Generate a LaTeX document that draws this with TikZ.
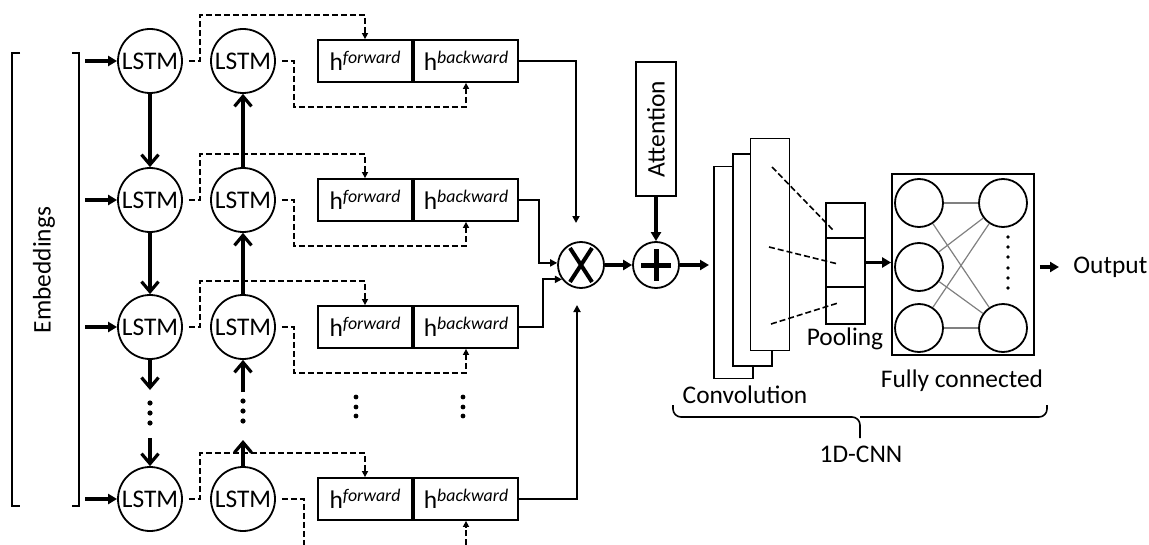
\documentclass[tikz,border=0pt]{standalone}
\usepackage{fontspec}
\setmainfont{Carlito}
\usetikzlibrary{arrows.meta}

\newcommand{\hsup}[1]{h\raisebox{3.5pt}{\fontsize{8.9}{10}\selectfont\itshape #1}}

\begin{document}
\begin{tikzpicture}[x=0.5pt, y=-0.5pt, font=\fontsize{12.7}{15}\selectfont,
	lstm/.style={draw, circle, line width=0.9pt, minimum size=32pt, inner sep=0pt},
	hbox/.style={draw, line width=0.9pt, minimum height=21pt, inner sep=0pt},
	convbox/.style={draw, fill=white, line width=0.9pt, minimum width=19.5pt, minimum height=106pt, inner sep=0pt},
	poolcell/.style={draw, line width=0.9pt, minimum width=19.5pt, inner sep=0pt},
	neuron/.style={draw, circle, line width=0.9pt, minimum size=24pt, inner sep=0pt},
	opcircle/.style={draw, circle, line width=0.9pt, minimum size=23pt, inner sep=0pt},
	inarrow/.style={-{Triangle[length=4.5pt,width=5pt]}, line width=1.6pt},
	vertarrow/.style={-{Straight Barb[length=5pt,width=8.5pt]}, line width=1.6pt},
	bigarrow/.style={-{Triangle[length=4.5pt,width=5pt]}, line width=1.6pt},
	outarrow/.style={-{Triangle[length=3.5pt,width=3.5pt]}, line width=0.9pt},
	dashline/.style={line width=0.8pt, dash pattern=on 3pt off 1.5pt},
	dasharrow/.style={dashline, -{Triangle[length=3pt,width=3pt]}}]
	\useasboundingbox (0,0) rectangle (1149,545);
	
	% embeddings bracket
	\draw[line width=0.8pt] (20,53) -| (12,506) -- (20,506);
	\draw[line width=0.8pt] (72,53) -| (79,506) -- (72,506);
	\node[rotate=90] (emb) at (44,270) {Embeddings};
	
	% BiLSTM rows
	\foreach \r/\y in {1/61, 2/200, 3/327, 4/499} {
		\node[lstm] (f\r) at (150,\y) {LSTM};
		\node[lstm] (b\r) at (243,\y) {LSTM};
		\node[hbox, minimum width=47pt] (hf\r) at (365,\y) {\hsup{forward}};
		\node[hbox, minimum width=52pt] (hb\r) at (466,\y) {\hsup{backward}};
		\draw[inarrow] (85,\y) -- (f\r);
		\draw[dasharrow, shorten <=3pt] (f\r.east) -- (200,\y) -- (200,\y-46) -| (hf\r.north);
	}
	\foreach \r/\y in {1/61, 2/200, 3/327}
		\draw[dasharrow, shorten <=3pt] (b\r.east) -- (294,\y) -- (294,\y+46) -| (hb\r.south);
	\coordinate (bend) at (304,545);
	\coordinate (bstart) at (466,545);
	\draw[dashline, shorten <=3pt] (b4.east) -- (bend |- b4) -- (bend);
	\draw[dasharrow] (bstart) -- (hb4.south);
	
	% vertical links
	\coordinate (fdot1) at (150,390);
	\coordinate (fdot2) at (150,438);
	\coordinate (bdot1) at (243,392);
	\coordinate (bdot2) at (243,440);
	\draw[vertarrow] (f1) -- (f2);
	\draw[vertarrow] (f2) -- (f3);
	\draw[vertarrow] (f3) -- (fdot1);
	\draw[vertarrow] (fdot2) -- (f4);
	\draw[vertarrow] (b2) -- (b1);
	\draw[vertarrow] (b3) -- (b2);
	\draw[vertarrow] (bdot1) -- (b3);
	\draw[vertarrow] (b4) -- (bdot2);
	\foreach \y in {403,413,423} \fill (150,\y) circle (1.3pt);
	\foreach \y in {401,411,421} \fill (243,\y) circle (1.3pt);
	\foreach \y in {397,407,416} {
		\fill (356,\y) circle (1.2pt);
		\fill (463,\y) circle (1.2pt);
	}
	
	% multiply and add
	\node[opcircle] (mult) at (581,265) {};
	\draw[line width=2pt] (570,248) -- (592,282) (592,248) -- (570,282);
	\node[opcircle] (plus) at (656,265) {};
	\draw[line width=2.5pt] (641,265) -- (671,265) (656,249) -- (656,281);
	\node[draw, line width=0.9pt, minimum width=20pt, minimum height=67pt, inner sep=0pt] (att) at (656,129) {\rotatebox{90}{Attention}};
	
	\coordinate (m1) at (576,223);
	\coordinate (m4) at (577,305);
	\draw[outarrow] (hb1.east) -| (m1);
	\draw[outarrow] (hb2.east) -- ++(20,0) |- (mult.175);
	\draw[outarrow] (hb3.east) -- ++(24,0) |- (mult.217);
	\draw[outarrow] (hb4.east) -| (m4);
	\draw[bigarrow] (att) -- (plus);
	\draw[bigarrow] (mult) -- (plus);
	
	% 1D-CNN
	\coordinate (cin) at (709,265);
	\draw[bigarrow] (plus) -- (cin);
	\foreach \i/\x/\y in {1/733.5/272.5, 2/752.5/260, 3/770/244.5}
		\node[convbox] (c\i) at (\x,\y) {};
	\node[poolcell, minimum height=17.5pt] (p1) at (845.5,220.5) {};
	\node[poolcell, minimum height=24.5pt] (p2) at (845.5,262.5) {};
	\node[poolcell, minimum height=18.5pt] (p3) at (845.5,305.5) {};
	\draw[dashline] (772,167) -- (833,230);
	\draw[dashline] (769,247) -- (838,264);
	\draw[dashline] (771,324) -- (838,303);
	\node (pooltxt) at (845,339) {Pooling};
	\node (convtxt) at (745,395) {Convolution};
	
	\node[draw, line width=0.9pt, minimum width=71pt, minimum height=90.5pt, inner sep=0pt] (fc) at (963,264.5) {};
	\foreach \i/\y in {1/203, 2/267, 3/328}
		\node[neuron] (l\i) at (919,\y) {};
	\node[neuron] (r1) at (1003,203) {};
	\node[neuron] (r3) at (1003,328) {};
	\foreach \a in {1,2,3}
		\foreach \b in {1,3}
			\draw[gray, line width=0.6pt] (l\a) -- (r\b);
	\foreach \y in {237,247,257,268,278,288} \fill (1008,\y) circle (0.9pt);
	\draw[bigarrow] (p2.east) -- (p2.east -| fc.west);
	\node (fctxt) at (962,381) {Fully connected};
	
	\node[anchor=west, inner sep=1pt] (out) at (1071,267) {Output};
	\draw[bigarrow, shorten <=2.5pt, shorten >=6pt] (fc.east |- out.west) -- (out.west);
	
	% brace
	\draw[line width=0.8pt, rounded corners=4pt] (673,405) |- (860,417) -- (860,438);
	\draw[line width=0.8pt, rounded corners=4pt] (1047,405) |- (860,417);
	\node (cnntxt) at (861,454) {1D-CNN};
\end{tikzpicture}
\end{document}
